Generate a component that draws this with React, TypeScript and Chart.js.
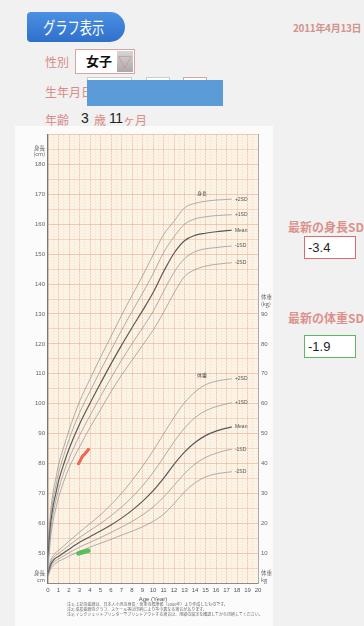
import React, { useEffect, useRef } from "react";
import { Chart, registerables } from "chart.js";
Chart.register(...registerables);

// ---- data ----
const AGES = [0, 0.25, 0.5, 0.75, 1, 1.5, 2, 3, 4, 5, 6, 7, 8, 9, 10, 11, 12, 13, 14, 15, 16, 17, 17.5];

const H_M2 = [44.5, 55.0, 61.0, 65.0, 68.5, 74.0, 78.5, 85.5, 92.0, 98.0, 104.0, 109.5, 114.5, 119.5, 124.5, 130.5, 137.0, 142.5, 144.8, 146.0, 146.6, 147.0, 147.1];
const H_M1 = [46.8, 57.5, 63.6, 67.6, 71.2, 77.0, 81.6, 89.3, 96.0, 102.4, 108.6, 114.5, 120.0, 125.3, 130.8, 137.5, 143.9, 148.5, 150.8, 151.8, 152.2, 152.6, 152.7];
const H_MEAN = [49.0, 59.6, 66.0, 70.0, 74.0, 79.8, 84.8, 93.1, 100.1, 106.8, 113.3, 119.5, 125.4, 131.1, 137.1, 144.1, 150.3, 154.5, 156.3, 157.0, 157.5, 157.9, 158.0];
const H_P1 = [51.2, 61.8, 68.3, 72.5, 76.7, 82.7, 88.0, 96.9, 104.1, 111.1, 117.9, 124.5, 130.8, 136.9, 143.4, 150.5, 155.8, 160.0, 161.8, 162.5, 162.9, 163.1, 163.2];
const H_P2 = [53.4, 64.0, 70.7, 75.0, 79.5, 85.5, 91.1, 100.7, 108.2, 115.5, 122.5, 129.5, 136.2, 142.7, 149.7, 156.5, 161.0, 165.5, 167.0, 167.7, 168.1, 168.3, 168.4];

const W_M2 = [2.2, 4.6, 5.9, 6.6, 7.2, 8.1, 9.0, 10.6, 12.0, 13.3, 14.6, 16.0, 17.3, 18.8, 20.6, 23.0, 26.5, 30.5, 33.5, 35.5, 36.5, 37.0, 37.2];
const W_M1 = [2.6, 5.3, 6.7, 7.5, 8.0, 9.1, 10.1, 12.0, 13.6, 15.2, 16.9, 18.7, 20.6, 22.8, 25.4, 28.7, 32.6, 36.6, 39.8, 42.0, 43.4, 44.4, 44.7];
const W_MEAN = [3.0, 6.0, 7.5, 8.4, 8.9, 10.1, 11.3, 13.6, 15.5, 17.4, 19.4, 21.7, 24.3, 27.3, 30.8, 35.0, 39.7, 43.8, 47.0, 49.3, 50.8, 51.8, 52.2];
const W_P1 = [3.4, 6.7, 8.3, 9.3, 9.9, 11.2, 12.6, 15.2, 17.6, 19.9, 22.5, 25.4, 28.7, 32.5, 36.9, 42.0, 47.2, 51.8, 55.3, 57.6, 59.0, 59.9, 60.3];
const W_P2 = [3.8, 7.4, 9.2, 10.2, 10.9, 12.4, 14.0, 17.0, 19.9, 22.8, 26.2, 30.0, 34.3, 39.0, 44.2, 49.8, 55.4, 60.3, 63.9, 66.3, 67.5, 68.1, 68.3];

const PT_AGE_H = [2.9, 3.05, 3.2, 3.3, 3.45, 3.6, 3.75, 3.85];
const PT_H = [79.9, 80.8, 81.9, 82.5, 82.9, 83.6, 84.2, 84.7];
const PT_AGE_W = [2.9, 3.2, 3.5, 3.85];
const PT_W = [9.9, 10.2, 10.5, 10.8];

const SD_LABELS = ["-2SD", "-1SD", "Mean", "+1SD", "+2SD"];
const X_TICKS = [0, 20];
const H_RANGE = [40, 190];
const W_RANGE = [0, 150];
const H_LABEL_TICKS = [50, 60, 70, 80, 90, 100, 110, 120, 130, 140, 150, 160, 170, 180];
const W_LABEL_TICKS = [10, 20, 30, 40, 50, 60, 70, 80, 90];

const SALMON = "#d98c86";
const TICK_FONT = { family: "Liberation Sans", size: 6 };

const pts = (ages: number[], vals: number[]) => ages.map((a, i) => ({ x: a, y: vals[i] }));

export default function App() {
  const ref = useRef<HTMLCanvasElement>(null);

  useEffect(() => {
    const curve = (vals: number[], axis: string, mean: boolean) => ({
      data: pts(AGES, vals),
      yAxisID: axis,
      borderColor: mean ? "#5a5a5a" : "#8f8f8f",
      borderWidth: mean ? 1.2 : 0.7,
      pointRadius: 0,
      cubicInterpolationMode: "monotone" as const,
      fill: false,
    });
    const hSets = [H_M2, H_M1, H_MEAN, H_P1, H_P2];
    const wSets = [W_M2, W_M1, W_MEAN, W_P1, W_P2];

    const bgPlugin = {
      id: "bg",
      beforeDraw(c: any) {
        const { ctx, chartArea: a } = c;
        ctx.save();
        ctx.fillStyle = "#fcf4e4";
        ctx.fillRect(a.left, a.top, a.right - a.left, a.bottom - a.top);
        ctx.restore();
      },
    };
    const labelPlugin = {
      id: "sdlabels",
      afterDraw(c: any) {
        const { ctx, chartArea: a } = c;
        const xs = c.scales.x, ys = c.scales.y, ws = c.scales.y2;
        ctx.save();
        ctx.font = "5px 'Liberation Sans'";
        ctx.fillStyle = "#555";
        ctx.textBaseline = "middle";
        ctx.textAlign = "left";
        const lx = xs.getPixelForValue(17.8);
        hSets.forEach((s, i) => ctx.fillText(SD_LABELS[i], lx, ys.getPixelForValue(s[s.length - 1])));
        wSets.forEach((s, i) => ctx.fillText(SD_LABELS[i], lx, ws.getPixelForValue(s[s.length - 1])));
        ctx.font = "5px 'Noto Sans CJK JP'";
        ctx.fillText("身長", xs.getPixelForValue(14.2), ys.getPixelForValue(170.5));
        ctx.fillText("体重", xs.getPixelForValue(14.2), ws.getPixelForValue(69.5));
        // axis unit captions
        ctx.fillStyle = "#666";
        ctx.font = "5.5px 'Noto Sans CJK JP'";
        ctx.textAlign = "right";
        const lX = a.left - 3;
        ctx.fillText("身長", lX, ys.getPixelForValue(185.6));
        ctx.fillText("(cm)", lX, ys.getPixelForValue(183.4));
        ctx.fillText("身長", lX, ys.getPixelForValue(43.3));
        ctx.fillText("cm", lX, ys.getPixelForValue(41.1));
        ctx.textAlign = "left";
        const rX = a.right + 3;
        ctx.fillText("体重", rX, ws.getPixelForValue(95.6));
        ctx.fillText("(kg)", rX, ws.getPixelForValue(93.4));
        ctx.fillText("体重", rX, ws.getPixelForValue(3.3));
        ctx.fillText("kg", rX, ws.getPixelForValue(1.1));
        ctx.restore();
      },
    };

    const chart = new Chart(ref.current!, {
      type: "line",
      data: {
        datasets: [
          ...hSets.map((s, i) => curve(s, "y", i === 2)),
          ...wSets.map((s, i) => curve(s, "y2", i === 2)),
          {
            data: pts(PT_AGE_H, PT_H), yAxisID: "y", borderColor: "#ea6a55", borderWidth: 3,
            pointRadius: 1.3, pointBackgroundColor: "#ea6a55", pointBorderWidth: 0, borderCapStyle: "round" as const,
          },
          {
            data: pts(PT_AGE_W, PT_W), yAxisID: "y2", borderColor: "#52c35a", borderWidth: 4.5,
            pointRadius: 0, borderCapStyle: "round" as const,
          },
        ],
      },
      options: {
        animation: false,
        responsive: false,
        maintainAspectRatio: false,
        layout: { padding: { top: 5, left: 0, right: 0, bottom: 0 } },
        plugins: { legend: { display: false }, tooltip: { enabled: false } },
        scales: {
          x: {
            type: "linear",
            min: X_TICKS[0],
            max: X_TICKS[1],
            ticks: {
              stepSize: 0.5,
              autoSkip: false,
              maxRotation: 0,
              padding: 4,
              font: TICK_FONT,
              color: "#555",
              callback: (v: any) => (Number.isInteger(v) ? String(v) : ""),
            },
            grid: {
              drawTicks: false,
              lineWidth: 0.8,
              color: (ctx: any) => (Number.isInteger(ctx.tick.value) ? "#eec3ad" : "#f7e7d8"),
            },
            border: { color: "#8a8a8a", width: 1 },
            title: { display: true, text: "Age (Year)", font: { family: "Liberation Sans", size: 6 }, color: "#555", padding: 0 },
            afterFit: (s: any) => { s.height = 20; },
          },
          y: {
            type: "linear",
            position: "left",
            min: H_RANGE[0],
            max: H_RANGE[1],
            ticks: {
              stepSize: 1,
              autoSkip: false,
              padding: 3,
              font: TICK_FONT,
              color: "#666",
              callback: (v: any) => {
                const r = Math.round(v);
                return H_LABEL_TICKS.includes(r) ? String(r) : "";
              },
            },
            grid: {
              drawTicks: false,
              lineWidth: 0.8,
              color: (ctx: any) => {
                const v = Math.round(ctx.tick.value);
                if (v % 10 === 0) return "#ebbca6";
                if (v % 5 === 0) return "#efc9b6";
                return "#f9ecdf";
              },
            },
            border: { color: "#777", width: 1.2 },
            afterFit: (s: any) => { s.width = 34; },
          },
          y2: {
            type: "linear",
            position: "right",
            min: W_RANGE[0],
            max: W_RANGE[1],
            ticks: {
              stepSize: 1,
              autoSkip: false,
              padding: 3,
              font: TICK_FONT,
              color: "#666",
              callback: (v: any) => {
                const r = Math.round(v);
                return W_LABEL_TICKS.includes(r) ? String(r) : "";
              },
            },
            grid: { drawOnChartArea: false, drawTicks: false },
            border: { color: "#aaa", width: 1 },
            afterFit: (s: any) => { s.width = 26; },
          },
        },
      },
      plugins: [bgPlugin, labelPlugin],
    } as any);
    return () => chart.destroy();
  }, []);

  const jp = "'Noto Sans CJK JP', 'Noto Sans', sans-serif";
  const abs = (l: number, t: number, extra: any = {}) => ({ position: "absolute" as const, left: l, top: t, ...extra });

  return (
    <div style={{ position: "absolute", left: 0, top: 0, width: 364, height: 626, overflow: "hidden", background: "#f1f1f1", fontFamily: jp }}>
      {/* paper */}
      <div style={abs(15, 126, { width: 258, height: 500, background: "#fbfbfb" })} />

      {/* tab */}
      <div style={abs(27, 12, { width: 98, height: 30, borderRadius: "4px 15px 15px 4px", background: "linear-gradient(#4b90e2, #2f70cc)" })} />
      <div style={abs(43, 12, { height: 30, lineHeight: "30px", fontSize: 17, color: "#fff", transform: "scaleX(0.72)", transformOrigin: "left center", whiteSpace: "nowrap" })}>グラフ表示</div>

      <div style={abs(293, 20, { fontSize: 10, fontWeight: 700, color: "#d4938d", whiteSpace: "nowrap", letterSpacing: -0.3 })}>2011年4月13日</div>

      {/* sex */}
      <div style={abs(45, 53, { fontSize: 12, color: SALMON })}>性別</div>
      <div style={abs(75, 49, { width: 58, height: 23, border: "1px solid #d9a3a0", background: "#fff" })} />
      <div style={abs(86, 51, { fontSize: 13, fontWeight: 700, color: "#111" })}>女子</div>
      <div style={abs(117, 51, { width: 16, height: 21, background: "linear-gradient(#d6d6d6, #aaaaaa)", color: "#e07f82", fontSize: 14, lineHeight: "21px", textAlign: "center" })}>▽</div>

      {/* birth date */}
      <div style={abs(45, 83, { fontSize: 12, color: SALMON })}>生年月日</div>
      <div style={abs(87, 77, { width: 43, height: 22, border: "1px solid #ccc", background: "#fff" })} />
      <div style={abs(146, 77, { width: 22, height: 22, border: "1px solid #ccc", background: "#fff" })} />
      <div style={abs(183, 77, { width: 22, height: 22, border: "1px solid #d9a3a0", background: "#fff" })} />
      <div style={abs(87, 80, { width: 136, height: 26, background: "#5b9bd8" })} />

      {/* age */}
      <div style={abs(45, 111, { fontSize: 12, color: SALMON })}>年齢</div>
      <div style={abs(81, 110, { fontSize: 14, color: "#222", fontFamily: "'Liberation Sans', sans-serif" })}>3</div>
      <div style={abs(94, 111, { fontSize: 12, color: SALMON })}>歳</div>
      <div style={abs(109, 110, { fontSize: 14, color: "#222", fontFamily: "'Liberation Sans', sans-serif", letterSpacing: -0.5 })}>11</div>
      <div style={abs(123, 111, { fontSize: 12, color: SALMON })}>ヶ月</div>

      {/* chart */}
      <canvas ref={ref} width={270} height={475} style={abs(14, 128, { width: 270, height: 475 })} />

      {/* footnotes */}
      <div style={abs(67, 602, { fontSize: 4, lineHeight: "5px", color: "#666", whiteSpace: "nowrap" })}>
        <div>注1) 上記の曲線は、日本人小児の身長・体重の標準値（2000年）より作成したものです。</div>
        <div>注2) 成長曲線のグラフ、スケール等は印刷により多少異なる場合があります。</div>
        <div>注3) インクジェットプリンターでプリントアウトする場合は、用紙の設定を確認してから印刷してください。</div>
      </div>

      {/* right panel */}
      <div style={abs(288, 218, { fontSize: 12, fontWeight: 700, color: "#dc918c", whiteSpace: "nowrap" })}>最新の身長SD値</div>
      <div style={abs(304, 236, { width: 47, height: 21, border: "1.5px solid #e06a6a", background: "#fff", fontFamily: "'Liberation Sans', sans-serif", fontSize: 13, lineHeight: "21px", paddingLeft: 3, boxSizing: "content-box", color: "#222" })}>-3.4</div>
      <div style={abs(288, 309, { fontSize: 12, fontWeight: 700, color: "#dc918c", whiteSpace: "nowrap" })}>最新の体重SD値</div>
      <div style={abs(304, 335, { width: 47, height: 21, border: "1.5px solid #5cb865", background: "#fff", fontFamily: "'Liberation Sans', sans-serif", fontSize: 13, lineHeight: "21px", paddingLeft: 3, boxSizing: "content-box", color: "#222" })}>-1.9</div>
    </div>
  );
}
